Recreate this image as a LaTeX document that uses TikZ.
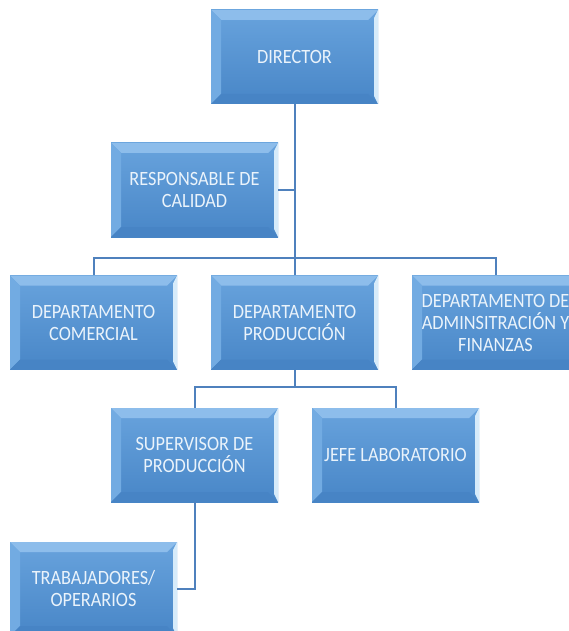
\documentclass[tikz,border=0pt]{standalone}
\usepackage{fontspec}
\setmainfont{Carlito}[FakeStretch=0.9]
\usetikzlibrary{positioning}

\definecolor{boxtop}{HTML}{68A3DD}
\definecolor{boxbot}{HTML}{4886C7}
\definecolor{beveltop}{HTML}{8DBDEB}
\definecolor{bevelleft}{HTML}{72ABE2}
\definecolor{bevelbot}{HTML}{4784C5}
\definecolor{bevelright}{HTML}{D6EBFA}
\definecolor{boxtext}{HTML}{EAF3FB}
\definecolor{linkblue}{HTML}{4F81BD}

\tikzset{
    orgbox/.style={
        rectangle, minimum width=167pt, minimum height=94pt, inner sep=0pt,
        align=center, text=boxtext, font=\fontsize{20.3}{22}\selectfont,
        top color=boxtop, bottom color=boxbot,
        path picture={
            \fill[beveltop] (path picture bounding box.north west) -- (path picture bounding box.north east)
                -- ([shift={(-10pt,-10pt)}]path picture bounding box.north east)
                -- ([shift={(10pt,-10pt)}]path picture bounding box.north west) -- cycle;
            \fill[bevelleft] (path picture bounding box.north west) -- ([shift={(10pt,-10pt)}]path picture bounding box.north west)
                -- ([shift={(10pt,10pt)}]path picture bounding box.south west)
                -- (path picture bounding box.south west) -- cycle;
            \fill[bevelbot] (path picture bounding box.south west) -- ([shift={(10pt,10pt)}]path picture bounding box.south west)
                -- ([shift={(-10pt,10pt)}]path picture bounding box.south east)
                -- (path picture bounding box.south east) -- cycle;
            \fill[bevelright] (path picture bounding box.north east) -- ([shift={(-4pt,-8pt)}]path picture bounding box.north east)
                -- ([shift={(-4pt,8pt)}]path picture bounding box.south east)
                -- (path picture bounding box.south east) -- cycle;
        }
    },
    link/.style={draw=linkblue, line width=2pt}
}

\begin{document}
\begin{tikzpicture}[x=1pt, y=-1pt]
    \clip (0,0) rectangle (569,631);
    \useasboundingbox (0,0) rectangle (569,631);

    % boxes
    \node[orgbox] (dir) at (294.5,57) {DIRECTOR};
    \node[orgbox] (resp) at (194.5,190) {RESPONSABLE DE\\CALIDAD};
    \node[orgbox] (com) at (93.5,322.5) {DEPARTAMENTO\\COMERCIAL};
    \node[orgbox] (prod) at (294.5,322.5) {DEPARTAMENTO\\PRODUCCIÓN};
    \node[orgbox] (fin) at (495.5,322.5) {DEPARTAMENTO DE\\ADMINSITRACIÓN Y\\FINANZAS};
    \node[orgbox] (sup) at (194.5,455) {SUPERVISOR DE\\PRODUCCIÓN};
    \node[orgbox] (jefe) at (395.5,455) {JEFE LABORATORIO};
    \node[orgbox] (trab) at (93.5,589) {TRABAJADORES/\\OPERARIOS};

    % bus points
    \coordinate (bus1) at (294.5,258);
    \coordinate (bus2) at (294.5,387);
    \coordinate (bend) at (194.5,589);

    % connectors
    \draw[link] (dir.south) -- (prod.north);
    \draw[link] (resp.east) -- (resp.east -| dir.south);
    \draw[link] (com.north) |- (bus1) -| (fin.north);
    \draw[link] (sup.north) |- (bus2) -| (jefe.north);
    \draw[link] (prod.south) -- (bus2);
    \draw[link] (sup.south) -- (bend) -- (trab.east);
\end{tikzpicture}
\end{document}
